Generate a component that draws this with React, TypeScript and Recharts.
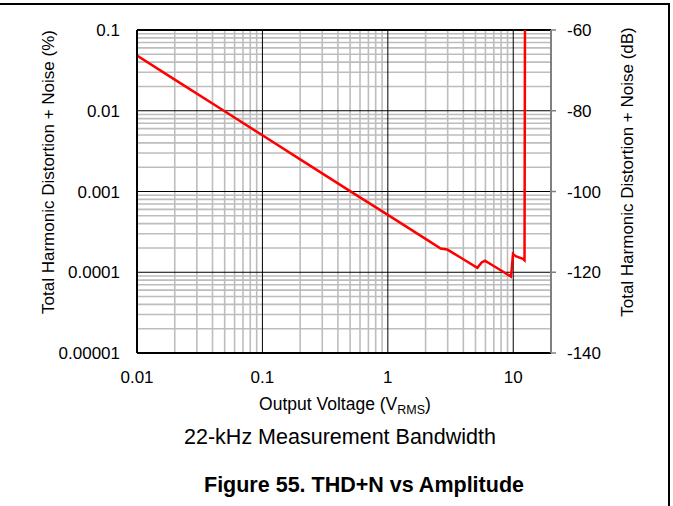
import { LineChart, Line, XAxis, YAxis, CartesianGrid } from "recharts";

// THD+N (%) vs output voltage (Vrms)
const voltage = [0.01, 0.02, 0.05, 0.1, 0.2, 0.5, 1, 2, 2.64, 2.98, 4, 5.17, 5.6, 5.95, 8, 9.6, 9.95, 10.45, 11.94, 12.3, 12.4];
const thdn = [0.0483, 0.0243, 0.00986, 0.00497, 0.0025, 0.00101, 0.000513, 0.000259, 0.000197, 0.000191, 0.000145, 0.0001135, 0.000132, 0.000139, 0.000105, 0.0000885, 0.000168, 0.000158, 0.000147, 0.000141, 0.1];

const xTicks = [0.01, 0.1, 1, 10];
const xTickLabels = ["0.01", "0.1", "1", "10"];
const yTicks = [0.00001, 0.0001, 0.001, 0.01, 0.1];
const yTickLabels = ["0.00001", "0.0001", "0.001", "0.01", "0.1"];
const dbTicks = [-140, -120, -100, -80, -60];

// grid lines
const xMinor = [0.02, 0.03, 0.04, 0.05, 0.06, 0.07, 0.08, 0.09, 0.2, 0.3, 0.4, 0.5, 0.6, 0.7, 0.8, 0.9, 2, 3, 4, 5, 6, 7, 8, 9];
const xMajor = [0.1, 1, 10];
const yMinor = [
  0.00002, 0.00003, 0.00004, 0.00005, 0.00006, 0.00007, 0.00008, 0.00009,
  0.0002, 0.0003, 0.0004, 0.0005, 0.0006, 0.0007, 0.0008, 0.0009,
  0.002, 0.003, 0.004, 0.005, 0.006, 0.007, 0.008, 0.009,
  0.02, 0.03, 0.04, 0.05, 0.06, 0.07, 0.08, 0.09,
];
const yMajor = [0.0001, 0.001, 0.01];
const yTop = [0.1];

const data = voltage.map((v, i) => ({ v, thd: thdn[i] }));

const FONT = "'Liberation Sans', Arial, Helvetica, sans-serif";
const tickStyle = { fill: "#000", fontSize: 17, fontFamily: FONT };

export default function App() {
  return (
    <div style={{ position: "absolute", left: 0, top: 0, width: 673, height: 506, background: "#fff", fontFamily: FONT }}>
      <div
        style={{
          position: "absolute",
          left: 0,
          top: 3,
          width: 668,
          height: 503,
          borderTop: "2px solid #000",
          borderRight: "2px solid #000",
        }}
      />
      <LineChart width={673} height={506} data={data} margin={{ top: 30, right: 60, bottom: 122, left: 37 }}>
        <CartesianGrid horizontalValues={yMinor} verticalValues={xMinor} stroke="#bdbdbd" strokeWidth={1.6} />
        <CartesianGrid horizontalValues={yMajor} verticalValues={xMajor} stroke="#000" strokeWidth={1} />
        <CartesianGrid horizontalValues={yTop} vertical={false} stroke="#000" strokeWidth={2} />
        <XAxis
          dataKey="v"
          type="number"
          scale="log"
          domain={[0.01, 20]}
          allowDataOverflow
          ticks={xTicks}
          tickFormatter={(v: number) => xTickLabels[xTicks.indexOf(v)] ?? ""}
          tick={tickStyle}
          axisLine={{ stroke: "#000", strokeWidth: 2 }}
          tickLine={false}
          tickSize={0}
          tickMargin={18}
          height={31}
          interval={0}
        />
        <YAxis
          type="number"
          scale="log"
          domain={[0.00001, 0.1]}
          allowDataOverflow
          ticks={yTicks}
          tickFormatter={(v: number) => yTickLabels[yTicks.indexOf(v)] ?? ""}
          tick={tickStyle}
          axisLine={{ stroke: "#000", strokeWidth: 2 }}
          tickLine={false}
          tickSize={0}
          tickMargin={17}
          width={100}
          interval={0}
        />
        <YAxis
          yAxisId="db"
          orientation="right"
          type="number"
          domain={[-140, -60]}
          allowDataOverflow
          ticks={dbTicks}
          tick={tickStyle}
          axisLine={{ stroke: "#808080", strokeWidth: 2 }}
          tickLine={{ stroke: "#808080", strokeWidth: 1.5 }}
          tickSize={5}
          tickMargin={11}
          width={62}
          interval={0}
        />
        <Line
          dataKey="thd"
          type="linear"
          stroke="#ff0000"
          strokeWidth={2.5}
          dot={false}
          activeDot={false}
          isAnimationActive={false}
        />
      </LineChart>
      <svg
        width={673}
        height={506}
        style={{ position: "absolute", left: 0, top: 0, pointerEvents: "none" }}
        fontFamily={FONT}
      >
        <text x={48} y={172} fontSize={17} textAnchor="middle" dominantBaseline="central" transform="rotate(-90 48 172)">
          Total Harmonic Distortion + Noise (%)
        </text>
        <text x={627} y={172} fontSize={17} textAnchor="middle" dominantBaseline="central" transform="rotate(-90 627 172)">
          Total Harmonic Distortion + Noise (dB)
        </text>
        <text x={345} y={410} fontSize={17.5} textAnchor="middle">
          Output Voltage (V
          <tspan fontSize={12.5} dy={4}>RMS</tspan>
          <tspan dy={-4}>)</tspan>
        </text>
        <text x={340} y={444} fontSize={21.5} textAnchor="middle">
          22-kHz Measurement Bandwidth
        </text>
        <text x={364} y={492} fontSize={21.5} fontWeight="bold" textAnchor="middle">
          Figure 55. THD+N vs Amplitude
        </text>
      </svg>
    </div>
  );
}
